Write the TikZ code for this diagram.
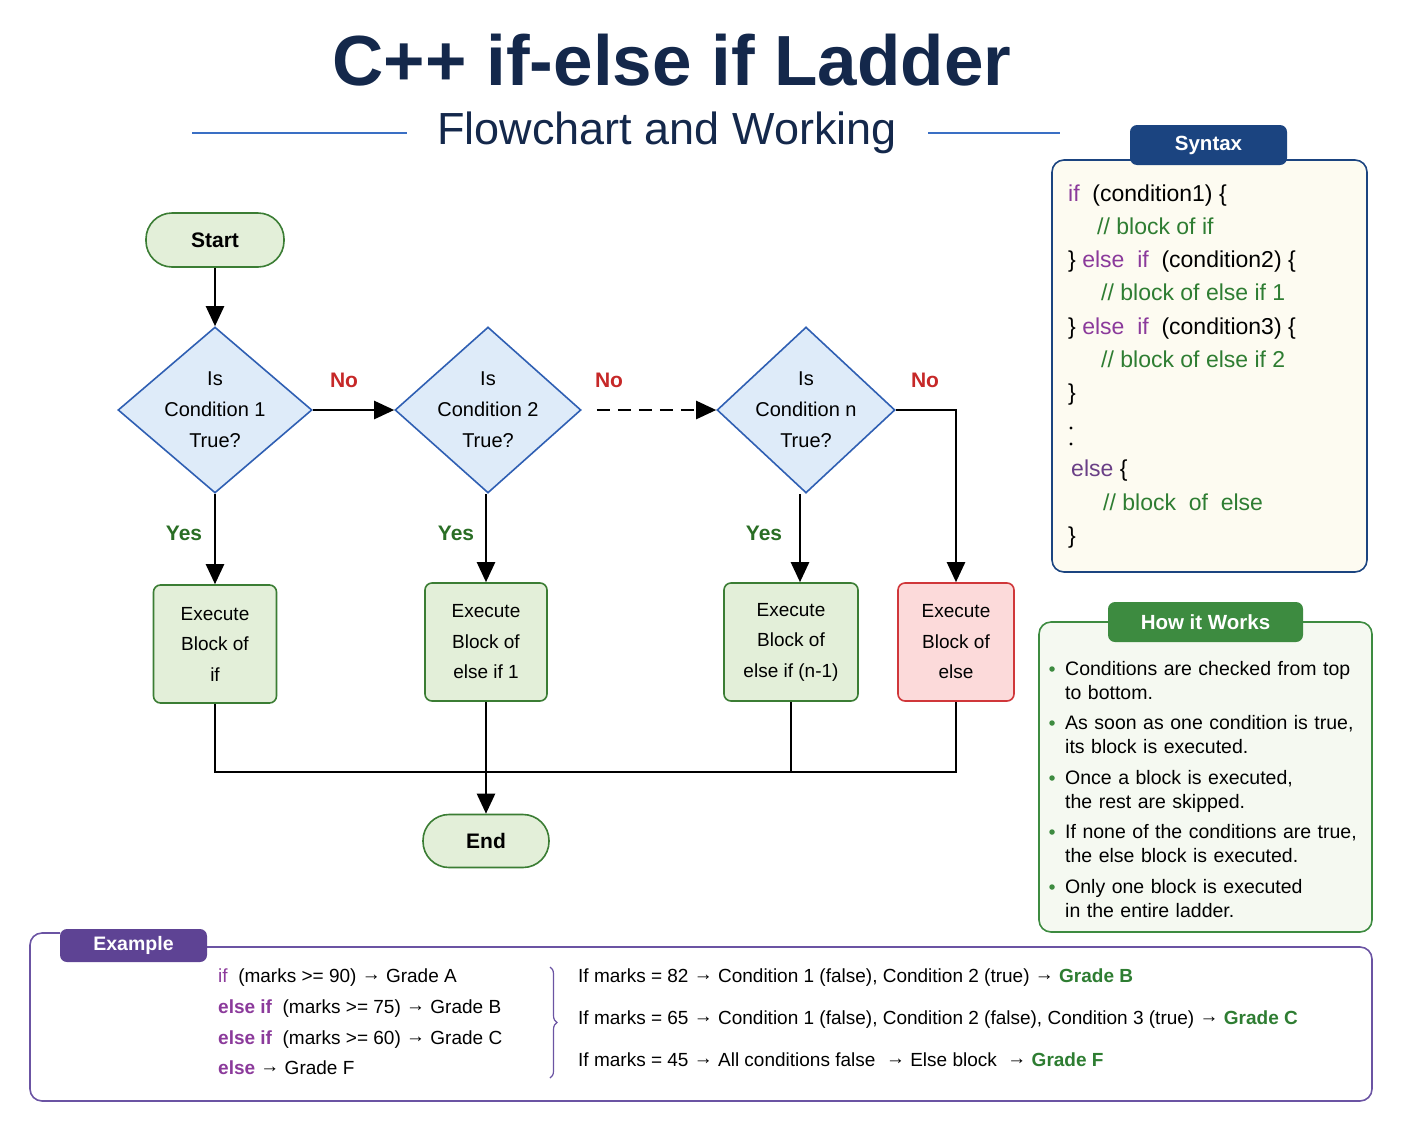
\documentclass[tikz,border=0pt]{standalone}
\usepackage{fontspec}
\setmainfont{Liberation Sans}
\usepackage{tikz}
\usetikzlibrary{shapes.geometric, arrows.meta, positioning, decorations.pathreplacing}

\definecolor{titlenavy}{HTML}{14284B}
\definecolor{rulebl}{HTML}{3A6FC4}
\definecolor{decblue}{HTML}{2F5FB3}
\definecolor{decfill}{HTML}{DEEBF9}
\definecolor{blkgreen}{HTML}{3B7D34}
\definecolor{blkfill}{HTML}{E3EFD9}
\definecolor{elsered}{HTML}{D0373A}
\definecolor{elsefill}{HTML}{FCDADA}
\definecolor{nored}{HTML}{C62828}
\definecolor{yesgreen}{HTML}{2A6E25}
\definecolor{synnavy}{HTML}{1B4480}
\definecolor{synfill}{HTML}{FDFBF1}
\definecolor{kwpurple}{HTML}{8B3A9B}
\definecolor{kwdark}{HTML}{6A3F86}
\definecolor{cmtgreen}{HTML}{2E7D32}
\definecolor{howgreen}{HTML}{3D8B40}
\definecolor{howfill}{HTML}{F5F9F1}
\definecolor{expurple}{HTML}{5E4394}
\definecolor{exframe}{HTML}{6B54A3}

\newcommand{\kw}[1]{\textcolor{kwpurple}{#1}}
\newcommand{\cmt}[1]{\textcolor{cmtgreen}{#1}}
\newcommand{\grd}[1]{\textcolor{cmtgreen}{\bfseries #1}}
\newcommand{\ra}{\raisebox{1.8pt}{→}}

\begin{document}
\begin{tikzpicture}[
        x=1pt, y=-1pt,
        every node/.style={align=center, font=\fontsize{20}{31}\selectfont},
        decision/.style={diamond, draw=decblue, fill=decfill, line width=1.6pt, aspect=1.17, inner sep=-5pt, minimum height=166pt},
        block/.style={rectangle, rounded corners=7pt, draw=blkgreen, fill=blkfill, line width=1.6pt, minimum height=118pt, font=\fontsize{19}{30.5}\selectfont},
        elseblock/.style={block, draw=elsered, fill=elsefill},
        terminal/.style={rectangle, rounded corners=26pt, draw=blkgreen, fill=blkfill, line width=1.6pt, minimum height=54pt, font=\fontsize{21}{25}\selectfont\bfseries},
        arrow/.style={-{Triangle[length=20pt, width=18pt]}, line width=2.4pt},
        joinline/.style={line width=2.4pt},
        nolabel/.style={text=nored, font=\fontsize{21}{25}\selectfont\bfseries},
        yeslabel/.style={text=yesgreen, font=\fontsize{21}{25}\selectfont\bfseries},
        panel/.style={rectangle, rounded corners=12pt, line width=1.6pt},
        tab/.style={rectangle, rounded corners=7pt, text=white, font=\fontsize{20.5}{24}\selectfont\bfseries},
        codeline/.style={anchor=west, inner sep=0pt, text height=16pt, text depth=5pt, font=\fontsize{23}{27}\selectfont},
        codedot/.style={circle, fill=black, inner sep=0pt, minimum size=3.2pt},
        exline/.style={anchor=west, inner sep=0pt, text height=14pt, text depth=4pt, font=\fontsize{19}{23}\selectfont},
        howitem/.style={anchor=north west, inner sep=0pt, text width=300pt, align=left, font=\fontsize{19.5}{24}\selectfont},
        bullet/.style={circle, fill=howgreen, inner sep=0pt, minimum size=5.5pt}
    ]
    \useasboundingbox (0,0) rectangle (1402,1122);

    % heading
    \node[text=titlenavy, font=\fontsize{71}{80}\selectfont\bfseries] (title) at (672,60) {C++ if-else if Ladder};
    \node[text=titlenavy, font=\fontsize{45}{50}\selectfont] (subtitle) at (667,133) {Flowchart and Working};
    \draw[rulebl, line width=1.8pt] ([xshift=-27pt]subtitle.west) -- ++(-215,0);
    \draw[rulebl, line width=1.8pt] ([xshift=28pt]subtitle.east) -- ++(132,0);

    % flowchart
    \node[terminal, minimum width=138pt] (start) at (215,240) {Start};
    \node[decision, minimum width=194pt] (c1) at (215,410) {Is\\Condition 1\\True?};
    \node[decision, minimum width=186pt] (c2) at (488,410) {Is\\Condition 2\\True?};
    \node[decision, minimum width=178pt] (cn) at (806,410) {Is\\Condition n\\True?};

    \node[block, minimum width=123pt] (b1) at (215,644) {Execute\\Block of\\if};
    \node[block, minimum width=122pt] (b2) at (486,642) {Execute\\Block of\\else if 1};
    \node[block, minimum width=134pt] (b3) at (791,642) {Execute\\Block of\\else if (n-1)};
    \node[elseblock, minimum width=116pt] (belse) at (956,642) {Execute\\Block of\\else};

    \node[terminal, minimum width=126pt, minimum height=53pt] (end) at (486,841) {End};
    \coordinate (merge) at (600,772);

    \draw[arrow] (start) -- (c1);
    \draw[arrow] (c1) -- (c2);
    \draw[arrow, dash pattern=on 13pt off 8pt] ([xshift=15pt]c2.east) -- (cn.west);
    \draw[arrow] (cn.east) -| (belse.north);

    \draw[arrow] (c1) -- (b1);
    \draw[arrow] (b2.north |- c2.south) -- (b2.north);
    \draw[arrow] ([xshift=-6pt]cn.south) -- ([xshift=-6pt]cn.south |- b3.north);

    \draw[joinline] (b1.south) |- (merge) -| (belse.south);
    \draw[joinline] (b3.south) -- (b3.south |- merge);
    \draw[arrow] (b2) -- (end);

    \node[nolabel] (no1) at (344,380) {No};
    \node[nolabel] (no2) at (609,380) {No};
    \node[nolabel] (no3) at (925,380) {No};
    \node[yeslabel] (yes1) at (184,533) {Yes};
    \node[yeslabel] (yes2) at (456,533) {Yes};
    \node[yeslabel] (yes3) at (764,533) {Yes};

    % syntax panel
    \node[panel, draw=synnavy, fill=synfill, minimum width=315pt, minimum height=412pt] (synbox) at (1209.5,366) {};
    \node[tab, fill=synnavy, minimum width=157pt, minimum height=40pt] (syntab) at (1208.5,145) {Syntax};
    \node[codeline] (syn1) at (1068,196) {\kw{if}\ \ (condition1) \{};
    \node[codeline] (syn2) at (1097,229) {\cmt{// block of if}};
    \node[codeline] (syn3) at (1068,262) {\} \kw{else}\ \ \kw{if}\ \ (condition2) \{};
    \node[codeline] (syn4) at (1101,295) {\cmt{// block of else if 1}};
    \node[codeline] (syn5) at (1068,329) {\} \kw{else}\ \ \kw{if}\ \ (condition3) \{};
    \node[codeline] (syn6) at (1101,362) {\cmt{// block of else if 2}};
    \node[codeline] (syn7) at (1068,395) {\}};
    \node[codedot] (dot1) at (1071,428) {};
    \node[codedot] (dot2) at (1071,444) {};
    \node[codeline] (syn9) at (1071,471) {\textcolor{kwdark}{else} \{};
    \node[codeline] (syn10) at (1103,505) {\cmt{// block\ \ of\ \ else}};
    \node[codeline] (syn11) at (1068,538) {\}};

    % how it works panel
    \node[panel, draw=howgreen, fill=howfill, minimum width=333pt, minimum height=310pt] (howbox) at (1205.5,777) {};
    \node[tab, fill=howgreen, minimum width=195pt, minimum height=40pt] (howtab) at (1205.5,622) {How it Works};
    \foreach \txt/\yy [count=\i] in {
        {Conditions are checked from top\\to bottom.}/669,
        {As soon as one condition is true,\\its block is executed.}/723,
        {Once a block is executed,\\the rest are skipped.}/778,
        {If none of the conditions are true,\\the else block is executed.}/832,
        {Only one block is executed\\in the entire ladder.}/887} {
        \node[bullet] (bul\i) at (1052,\yy) {};
        \node[howitem] (item\i) at (1065,\yy-8) {\txt};
    }

    % example panel
    \draw[exframe, line width=1.6pt, rounded corners=12pt] (60,933) -- (30,933) -- (30,1101) -- (1372,1101) -- (1372,947) -- (200,947);
    \node[tab, fill=expurple, minimum width=147pt, minimum height=33pt, font=\fontsize{19.5}{23}\selectfont\bfseries] (extab) at (133.5,945.5) {Example};

    \node[exline] (ex1) at (218,977) {\kw{if}\ \ (marks >= 90) \ra{} Grade A};
    \node[exline] (ex2) at (218,1008) {\kw{\bfseries else if}\ \ (marks >= 75) \ra{} Grade B};
    \node[exline] (ex3) at (218,1039) {\kw{\bfseries else if}\ \ (marks >= 60) \ra{} Grade C};
    \node[exline] (ex4) at (218,1069) {\kw{\bfseries else} \ra{} Grade F};
    \draw[exframe, line width=1.2pt, decorate, decoration={brace, amplitude=7pt}] (550,967) -- (550,1078);

    \node[exline] (run1) at (578,977) {If marks = 82 \ra{} Condition 1 (false), Condition 2 (true) \ra{} \grd{Grade B}};
    \node[exline] (run2) at (578,1019) {If marks = 65 \ra{} Condition 1 (false), Condition 2 (false), Condition 3 (true) \ra{} \grd{Grade C}};
    \node[exline] (run3) at (578,1061) {If marks = 45 \ra{} All conditions false\ \ \ra{} Else block\ \ \ra{} \grd{Grade F}};
\end{tikzpicture}
\end{document}
